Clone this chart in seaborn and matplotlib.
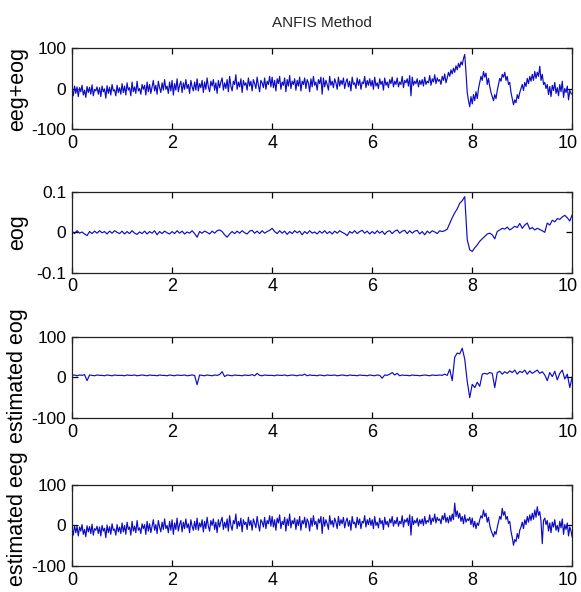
import numpy as np
import matplotlib
matplotlib.use("Agg")
import matplotlib.pyplot as plt
import matplotlib.transforms as mtransforms
import seaborn as sns

# sample grids: fine one for the noisy eeg traces, coarser one for the eog traces
time_fine = np.arange(401) * 0.025
time_coarse = np.arange(201) * 0.05

# eeg + eog (0.025 s apart)
eeg_eog = [
    -2, -18, 6, -12, 4, -20, 2, -8, 8, -16, -4, -22, 5, -10, 3, -14, 9, -18, -2, -6,
    4, -14, 2, -20, 6, -8, -1, -24, 7, -12, 3, -16, 10, -6, -3, -18, 8, -10, 2, -14,
    12, -10, 6, -16, 14, -4, 2, -18, 16, -8, 4, -12, 18, -6, 0, -14, 10, -2, 8, -16,
    16, -8, 10, -12, 4, 20, -6, 8, -14, 18, 2, -10, 14, -4, 22, -2, 6, -12, 16, -6,
    20, -16, 12, -4, 24, -8, 8, 18, -10, 14, -2, 22, 0, 10, -12, 20, 4, -6, 16, -4,
    24, -6, 12, 2, 20, -10, 16, -2, 26, 4, -8, 18, 6, 22, -4, 14, -12, 20, 2, 16,
    26, -4, 14, 0, 22, -8, 30, 6, -6, 18, 10, 34, -2, 16, 4, 24, -10, 20, 8, 14,
    -4, 26, 6, 18, -6, 22, 12, 0, 28, 8, -8, 20, 14, 2, 26, -2, 18, 10, 30, 4,
    28, 2, 20, -6, 24, 12, 30, -2, 16, 8, 26, -8, 22, 6, 32, 0, 18, 10, 24, -4,
    20, 6, 28, -6, 18, 10, 26, 0, 22, 14, -8, 24, 4, 30, 8, 16, -4, 22, 12, 28,
    -14, 26, 4, 20, 10, -4, 30, 8, 18, 2, 24, 14, -2, 28, 6, 20, 10, 26, 0, 16,
    24, 4, 18, -6, 28, 10, 14, 0, 26, 8, 22, -2, 16, 12, 30, 2, 20, 8, 24, 6,
    20, -2, 28, 6, 14, 0, 24, 10, 18, -4, 26, 8, 16, 2, 22, 12, 28, 4, 18, 10,
    26, 4, 16, 10, 30, 2, 20, 14, 24, 6, 32, -18, 28, 8, 18, 12, 24, 4, 20, 10,
    22, 6, 28, 10, 18, 14, 32, 8, 24, 16, 34, 12, 26, 18, 22, 10, 30, 20, 36, 14,
    26, 40, 30, 46, 36, 50, 40, 56, 46, 62, 52, 66, 58, 74, 84, 40, -10, -30, -45, -20,
    -38, -15, -30, -8, -25, 0, 15, 30, 20, 42, 28, 38, 10, 25, 5, -10, -20, -30, -15, -25,
    -5, 10, 25, 18, 35, 28, 40, 20, 30, 10, 15, -10, -25, -40, -28, -35, -15, -25, -10, 0,
    10, -5, 15, 5, 25, 12, 30, 18, 35, 20, 42, 25, 40, 30, 55, 20, 35, 10, 15, 0,
    10, -15, 5, -20, 8, -5, 15, -12, 2, -18, 10, -8, 18, -22, 0, -10, 6, -28, -5, -12,
    -15,
]

# reference eog (0.05 s apart)
eog = [
    0.002, -0.003, 0.004, -0.002, 0.001, -0.004, -0.008, 0.002, -0.003, 0.003,
    -0.002, 0.004, -0.001, 0.002, -0.004, 0.003, -0.002, 0.004, 0.000, -0.003,
    0.003, -0.004, 0.002, -0.003, 0.004, -0.002, -0.005, 0.001, -0.003, 0.003,
    -0.004, 0.002, -0.002, 0.004, -0.006, 0.002, -0.003, 0.003, -0.001, -0.004,
    0.002, -0.003, 0.004, -0.002, 0.003, -0.004, 0.001, -0.002, 0.004, -0.003,
    -0.012, 0.002, -0.002, 0.003, 0.000, -0.004, 0.003, -0.002, 0.004, 0.006,
    0.002, -0.006, -0.012, -0.004, 0.002, -0.003, 0.003, -0.002, 0.004, -0.001,
    -0.004, 0.003, 0.005, -0.002, 0.003, -0.003, 0.004, -0.002, 0.002, 0.005,
    0.010, 0.002, -0.003, 0.004, -0.002, 0.003, -0.005, 0.002, -0.003, 0.004,
    -0.001, 0.003, -0.006, 0.002, -0.003, 0.004, -0.002, 0.001, -0.004, 0.003,
    -0.002, 0.004, -0.003, 0.002, -0.004, 0.003, -0.002, 0.004, 0.000, -0.003,
    -0.008, 0.002, -0.002, 0.004, -0.003, 0.002, 0.005, -0.002, 0.003, -0.004,
    0.002, -0.003, 0.004, -0.002, 0.003, -0.005, 0.002, 0.004, -0.003, 0.003,
    0.006, -0.002, 0.003, 0.005, -0.003, 0.004, -0.002, 0.003, 0.005, -0.004,
    0.002, -0.006, 0.003, -0.002, 0.004, 0.001, -0.003, 0.004, 0.002, 0.004,
    0.008, 0.022, 0.036, 0.048, 0.058, 0.072, 0.078, 0.088, -0.018, -0.043,
    -0.047, -0.038, -0.031, -0.022, -0.016, -0.010, -0.004, -0.002, -0.006, -0.016,
    0.002, 0.006, 0.010, 0.008, 0.013, 0.006, 0.010, 0.015, 0.012, 0.022,
    0.010, 0.018, 0.023, 0.008, 0.012, 0.006, 0.010, 0.007, 0.004, 0.000,
    0.023, 0.018, 0.030, 0.026, 0.034, 0.032, 0.038, 0.042, 0.036, 0.028,
    0.044,
]

# ANFIS estimate of the eog (0.05 s apart)
est_eog = [
    5, 6, 4, 6, 5, 7, -8, 6, 5, 4, 6, 5, 5, 4, 6, 5, 4, 6, 5, 5,
    5, 4, 6, 5, 5, 6, 4, 5, 6, 5, 4, 6, 5, 5, 4, 6, 5, 5, 4, 6,
    5, 4, 6, 5, 5, 6, 4, 5, 6, 5, -18, 6, 5, 4, 6, 5, 4, 6, 5, 7,
    14, 2, 6, 5, 4, 6, 5, 5, 4, 6, 5, 5, 7, 4, 10, 5, 4, 6, 5, 5,
    5, 4, 6, 5, 5, 6, 4, 5, 6, 5, 4, 6, 5, 8, 4, 6, 5, 5, 4, 6,
    5, 4, 6, 5, 5, 6, 4, 5, 6, 5, 4, 6, 5, 5, 4, 6, 5, 5, 4, 6,
    5, 4, 6, 5, -2, 6, 5, 8, 12, 6, 10, 4, 6, 5, 5, 4, 6, 5, 5, 4,
    5, 6, 5, 4, 6, 5, 5, 6, 5, 8, 5, 20, -8, 50, 60, 58, 72, 45, -10, -50,
    -17, -25, -12, -22, 8, 10, 8, 12, 10, -25, 12, 15, 8, 14, 10, 16, 12, 18, 8, 15,
    12, 18, 8, 16, 10, 14, 18, 10, 14, 6, -8, 12, 2, 15, -6, 10, 18, -4, 8, -25,
    2,
]

# recovered eeg (0.025 s apart)
est_eeg = [
    -8, -24, 0, -18, -2, -26, -4, -14, 2, -22, -10, -28, -1, -16, -3, -20, 3, -24, -8, -12,
    -2, -20, -4, -26, 0, -14, -7, -30, 1, -18, -3, -22, 4, -12, -9, -24, 2, -16, -4, -20,
    6, -16, 0, -22, 8, -10, -4, -24, 10, -14, -2, -18, 12, -12, -6, -20, 4, -8, 2, -22,
    10, -14, 4, -18, -2, 14, -12, 2, -20, 12, -4, -16, 8, -10, 16, -8, 0, -18, 10, -12,
    14, -22, 6, -10, 18, -14, 2, 12, -16, 8, -8, 16, -6, 4, -18, 14, -2, -12, 10, -10,
    18, -12, 6, -4, 14, -16, 10, -8, 20, -2, -14, 12, 0, 16, -10, 8, -18, 14, -4, 10,
    20, -10, 8, -6, 16, -14, 24, 0, -12, 12, 4, 28, -8, 10, -2, 18, -16, 14, 2, 8,
    -10, 20, 0, 12, -12, 16, 6, -6, 22, 2, -14, 14, 8, -4, 20, -8, 12, 4, 24, -2,
    22, -4, 14, -12, 18, 6, 26, -8, 10, 2, 20, -14, 16, 0, 28, -6, 12, 4, 18, -10,
    14, 0, 22, -12, 12, 4, 20, -6, 16, 8, -14, 18, -2, 24, 2, 10, -10, 16, 6, 22,
    -20, 20, -2, 14, 4, -10, 24, 2, 12, -4, 18, 8, -8, 22, 0, 14, 4, 20, -6, 10,
    18, -2, 12, -12, 22, 4, 8, -6, 20, 2, 16, -8, 10, 6, 24, -4, 14, 2, 18, 0,
    14, -8, 22, 0, 8, -6, 18, 4, 12, -10, 20, 2, 10, -4, 16, 6, 22, -2, 12, 4,
    20, -2, 10, 4, 24, -4, 14, 8, 18, 0, 26, -24, 22, 2, 12, 6, 18, -2, 14, 4,
    16, 0, 22, 4, 12, 8, 26, 2, 18, 10, 28, 6, 20, 12, 16, 4, 24, 14, 30, 8,
    20, 6, 24, 10, 28, 14, 55, 22, 36, 18, 30, 10, 22, 4, 26, 8, 16, 12, 20, 2,
    18, -4, 10, -8, 6, 0, 14, 24, 18, 38, 22, 30, 8, 20, 0, -12, -20, -28, -15, -22,
    -5, 8, 22, 15, 42, 25, 34, 15, 22, 5, 10, -15, -30, -49, -35, -40, -20, -32, -12, -4,
    8, -8, 14, 2, 22, 8, 26, 12, 30, 15, 38, 20, 46, 25, 34, 10, -45, 12, 18, 2,
    12, -14, 6, -18, 8, -4, 14, -12, 0, -16, 10, -6, 16, -22, 2, -10, 6, -26, -4, -14,
    -30,
]

panel_labels = ["eeg+eog", "eog", "estimated eog", "estimated eeg"]
x_ticks = [0, 2, 4, 6, 8, 10]
y_ticks_big = [-100, 0, 100]
y_ticks_eog = [-0.1, 0, 0.1]
y_ticklabels_eog = ["-0.1", "0", "0.1"]

sns.set_theme(style="ticks")
plt.rcParams["font.family"] = ["Liberation Sans", "DejaVu Sans"]

fig = plt.figure(figsize=(5.81, 5.92), dpi=100)

line_color = "#0c0cc4"
panel_bottoms = [0.782, 0.539, 0.294, 0.044]
label_centres = [0.5, 0.5, 0.52, 0.585]
series = [(time_fine, eeg_eog), (time_coarse, eog),
          (time_coarse, est_eog), (time_fine, est_eeg)]

# nudge the "10" label a little left so it stays inside the figure
nudge = mtransforms.ScaledTranslation(-3 / 72, 0, fig.dpi_scale_trans)

for i, (bottom, (t, values), label) in enumerate(zip(panel_bottoms, series, panel_labels)):
    ax = fig.add_axes([0.124, bottom, 0.861, 0.137])
    sns.lineplot(x=t, y=values, ax=ax, color=line_color,
                 linewidth=0.85, estimator=None)
    ax.set_xlim(0, 10)
    ax.set_xticks(x_ticks)
    ax.set_xticklabels([str(v) for v in x_ticks], fontsize=13)
    if i == 1:
        ax.set_ylim(-0.1, 0.1)
        ax.set_yticks(y_ticks_eog)
        ax.set_yticklabels(y_ticklabels_eog, fontsize=12.5)
    else:
        ax.set_ylim(-100, 100)
        ax.set_yticks(y_ticks_big)
        ax.set_yticklabels([str(v) for v in y_ticks_big], fontsize=12.5)
    ax.tick_params(direction="in", top=True, right=True, length=4.5,
                   width=0.9, colors="black")
    ax.tick_params(axis="x", pad=4.0)
    ax.tick_params(axis="y", pad=4.0)
    for spine in ax.spines.values():
        spine.set_visible(True)
        spine.set_linewidth(0.9)
        spine.set_color("#222222")
    ax.set_ylabel(label, fontsize=15.5, color="black")
    ax.yaxis.set_label_coords(-0.088, label_centres[i])
    ax.set_xlabel("")
    last = ax.xaxis.get_major_ticks()[-1].label1
    last.set_transform(last.get_transform() + nudge)

fig.text(0.554, 0.961, "ANFIS Method", ha="center", va="center", fontsize=11)

fig.savefig("out.png", dpi=100)
